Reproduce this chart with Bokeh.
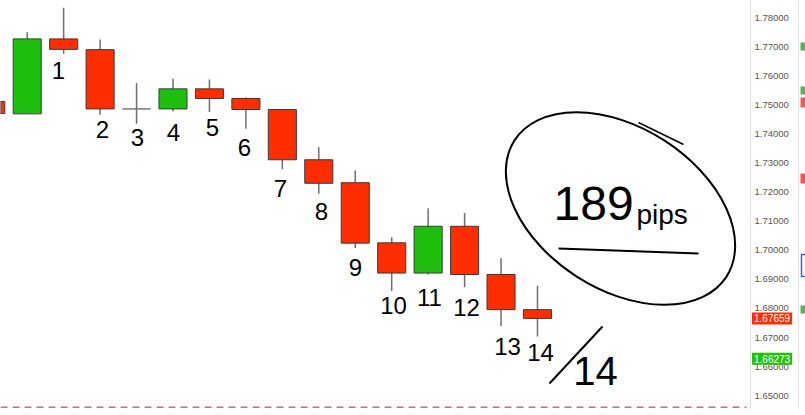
import numpy as np
from bokeh.plotting import figure
from bokeh.models import LinearAxis, FixedTicker, PrintfTickFormatter, Range1d, Label, Span
from bokeh.core.properties import value
from bokeh.embed import file_html
from bokeh.resources import INLINE

# ---------------- data ----------------
candle_idx = list(range(-1, 15))
opens  = [1.7513, 1.7470, 1.7728, 1.7691, 1.7487, 1.7487, 1.7556, 1.7523, 1.7485, 1.7312, 1.7233, 1.7026, 1.6922, 1.7083, 1.6917, 1.6796]
highs  = [1.7520, 1.7751, 1.7835, 1.7726, 1.7576, 1.7591, 1.7588, 1.7526, 1.7487, 1.7355, 1.7275, 1.7045, 1.7145, 1.7129, 1.6973, 1.6878]
lows   = [1.7465, 1.7470, 1.7677, 1.7467, 1.7436, 1.7478, 1.7476, 1.7419, 1.7279, 1.7195, 1.7008, 1.6860, 1.6917, 1.6873, 1.6740, 1.6704]
closes = [1.7471, 1.7728, 1.7692, 1.7487, 1.7487, 1.7556, 1.7523, 1.7485, 1.7312, 1.7231, 1.7025, 1.6922, 1.7083, 1.6917, 1.6796, 1.67659]
count_labels = ["1", "2", "3", "4", "5", "6", "7", "8", "9", "10", "11", "12", "13", "14"]
price_ticks = [1.65, 1.66, 1.67, 1.68, 1.69, 1.70, 1.71, 1.72, 1.73, 1.74, 1.75, 1.76, 1.77, 1.78]
last_price = 1.67659
other_price = 1.66273

# ---------------- layout ----------------
W, H = 805, 415
BB = 6
FW, FH = W, H - BB
x0, x1 = -0.7325, 21.353
y0, y1 = 1.64523, 1.78602

def X(px):
    return x0 + px / FW * (x1 - x0)

def Y(py):
    return y1 - py / FH * (y1 - y0)

p = figure(width=W, height=H, x_range=Range1d(x0, x1), y_range=Range1d(y0, y1),
           output_backend="svg", toolbar_location=None,
           x_axis_location=None, y_axis_location=None,
           min_border_left=0, min_border_right=0, min_border_top=0, min_border_bottom=BB,
           outline_line_color=None, background_fill_color="white", border_fill_color="white")
p.xgrid.grid_line_color = None
p.ygrid.grid_line_color = None

# price scale: right axis anchored at the scale border
ax = LinearAxis(ticker=FixedTicker(ticks=price_ticks), formatter=PrintfTickFormatter(format="%.5f"),
                axis_line_color="#dcdfe6", major_tick_line_color=None, minor_tick_line_color=None,
                major_tick_out=0, major_tick_in=0,
                major_label_text_font_size="9.5px", major_label_text_color="#555555",
                major_label_text_font="Liberation Sans", major_label_standoff=4,
                fixed_location=X(750))
p.add_layout(ax, "right")
p.add_layout(Span(location=X(798), dimension="height", line_color="#e3e5ea", line_width=1))

# ---------------- candles ----------------
RED, GREEN = "#ff2d00", "#1fbf10"
o = np.array(opens); c = np.array(closes)
tops = np.maximum(o, c); bots = np.minimum(o, c)
fills = [GREEN if cc > oo else (RED if cc < oo else "#777777") for oo, cc in zip(opens, closes)]
edges = ["#3a3a3a" if cc != oo else "#777777" for oo, cc in zip(opens, closes)]

p.segment(x0=candle_idx, y0=lows, x1=candle_idx, y1=highs, line_color="#6e6e6e", line_width=1.5)
p.vbar(x=candle_idx, width=0.77, top=tops, bottom=bots, fill_color=fills, line_color=edges, line_width=1)

# bottom dashed line
p.segment(x0=[X(0)], y0=[Y(406.7)], x1=[X(746)], y1=[Y(406.7)],
          line_color="#e3607f", line_dash="7 5", line_width=1.5)

# price tags on the scale
p.add_layout(Label(x=X(751.5), y=last_price, text="1.67659", text_color="white",
                   text_font="Liberation Sans", text_font_size="10px", text_baseline="middle",
                   background_fill_color="#ff2d00", padding=2))
p.add_layout(Label(x=X(751.5), y=other_price, text="1.66273", text_color="white",
                   text_font="Liberation Sans", text_font_size="10px", text_baseline="middle",
                   background_fill_color="#22c20a", padding=2))

# small side markers of the trading UI
p.quad(left=[X(800)] * 5, right=[X(806)] * 5,
       top=[Y(42), Y(86), Y(97), Y(173), Y(305)], bottom=[Y(50), Y(94), Y(107), Y(183), Y(313)],
       fill_color=["#5fae5f", "#5fae5f", "#f25555", "#f25555", "#5fae5f"], line_color=None)
p.quad(left=[X(801)], right=[X(807)], top=[Y(254)], bottom=[Y(276)],
       fill_color=None, line_color="#2962ff", line_width=1.5)

# ---------------- hand-drawn annotations ----------------
HAND = value("Liberation Sans")
num_px_x = [58, 102, 137, 173, 212, 244, 280, 321, 355, 393, 429, 466, 507, 540]
num_px_y = [70, 129, 137, 132, 127, 147, 188, 211, 267, 305, 297, 307, 346, 352]
p.text(x=[X(v) for v in num_px_x], y=[Y(v) for v in num_px_y], text=count_labels,
       text_font=HAND, text_font_size="24px", text_align="center", text_baseline="middle",
       text_color="black")

p.ellipse(x=[X(620)], y=[Y(208)], width=252, height=162, angle=-np.pi / 5.5,
          width_units="screen", height_units="screen", fill_color=None, line_color="black", line_width=2)
p.line(x=[X(638), X(683)], y=[Y(122), Y(144)], line_color="black", line_width=1.5)
p.text(x=[X(553)], y=[Y(203)], text=["189"], text_font=HAND, text_font_size="48px",
       text_align="left", text_baseline="middle", text_color="black")
p.text(x=[X(636)], y=[Y(214)], text=["pips"], text_font=HAND, text_font_size="28px",
       text_align="left", text_baseline="middle", text_color="black")
p.line(x=[X(558), X(698)], y=[Y(248), Y(253)], line_color="black", line_width=2)
p.line(x=[X(549), X(602)], y=[Y(383), Y(326)], line_color="black", line_width=2)
p.text(x=[X(595)], y=[Y(370)], text=["14"], text_font=HAND, text_font_size="40px",
       text_align="center", text_baseline="middle", text_color="black")

open("out.html", "w").write(file_html(p, INLINE))
